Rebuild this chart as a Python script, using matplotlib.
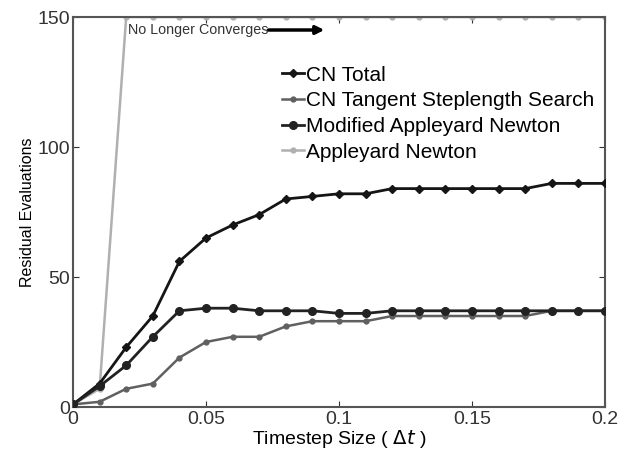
import matplotlib
matplotlib.use("Agg")
import matplotlib.pyplot as plt

plt.rcParams['font.family'] = ['Liberation Sans', 'DejaVu Sans']

dt = [0.0, 0.01, 0.02, 0.03, 0.04, 0.05, 0.06, 0.07, 0.08, 0.09, 0.10,
      0.11, 0.12, 0.13, 0.14, 0.15, 0.16, 0.17, 0.18, 0.19, 0.20]
cn_total = [1, 9, 23, 35, 56, 65, 70, 74, 80, 81, 82, 82, 84, 84, 84, 84, 84, 84, 86, 86, 86]
cn_tangent = [1, 2, 7, 9, 19, 25, 27, 27, 31, 33, 33, 33, 35, 35, 35, 35, 35, 35, 37, 37, 37]
mod_appleyard = [1, 8, 16, 27, 37, 38, 38, 37, 37, 37, 36, 36, 37, 37, 37, 37, 37, 37, 37, 37, 37]
appleyard = [1, 7, 150, 150, 150, 150, 150, 150, 150, 150, 150,
             150, 150, 150, 150, 150, 150, 150, 150, 150, 150]

labels = ["CN Total", "CN Tangent Steplength Search", "Modified Appleyard Newton", "Appleyard Newton"]

fig = plt.figure(figsize=(6.29, 4.53), dpi=100)
ax = fig.add_axes([73/629, (453-407)/453, 532/629, 390/453])

ax.plot(dt, cn_total, color='#151515', lw=2.0, marker='D', ms=4.5, label=labels[0], zorder=4)
ax.plot(dt, cn_tangent, color='#606060', lw=1.8, marker='o', ms=3.5, label=labels[1], zorder=3)
ax.plot(dt, mod_appleyard, color='#222222', lw=2.0, marker='o', ms=5.5, label=labels[2], zorder=4)
ax.plot(dt, appleyard, color='#b0b0b0', lw=1.8, marker='o', ms=3.5, label=labels[3], zorder=2)

ax.set_xlim(0, 0.2)
ax.set_ylim(0, 150)
ax.set_xticks([0, 0.05, 0.1, 0.15, 0.2])
ax.set_xticklabels(['0', '0.05', '0.1', '0.15', '0.2'])
ax.set_yticks([0, 50, 100, 150])
ax.tick_params(direction='in', top=True, right=True, labelsize=14, length=4, colors='#333333')
ax.tick_params(axis='x', pad=3)
ax.tick_params(axis='y', pad=2)
for s in ax.spines.values():
    s.set_color('#555555')
    s.set_linewidth(1.5)

ax.set_xlabel(r'Timestep Size ( $\Delta t$ )', fontsize=14, labelpad=0)
ax.set_ylabel('Residual Evaluations', fontsize=11.5, labelpad=2)

ax.annotate('', xy=(0.0945, 145), xytext=(0.0735, 145),
            arrowprops=dict(arrowstyle='-|>', color='black', lw=2.5, mutation_scale=12,
                            shrinkA=0, shrinkB=0))
ax.text(0.0205, 145, 'No Longer Converges', fontsize=10.3, va='center', ha='left', color='#333333')

ax.legend(loc='upper left', bbox_to_anchor=(0.393, 0.875), frameon=False, fontsize=15,
          handlelength=1.05, handletextpad=0.1, labelspacing=0.32, borderaxespad=0,
          borderpad=0)

fig.savefig('out.png', dpi=100)
